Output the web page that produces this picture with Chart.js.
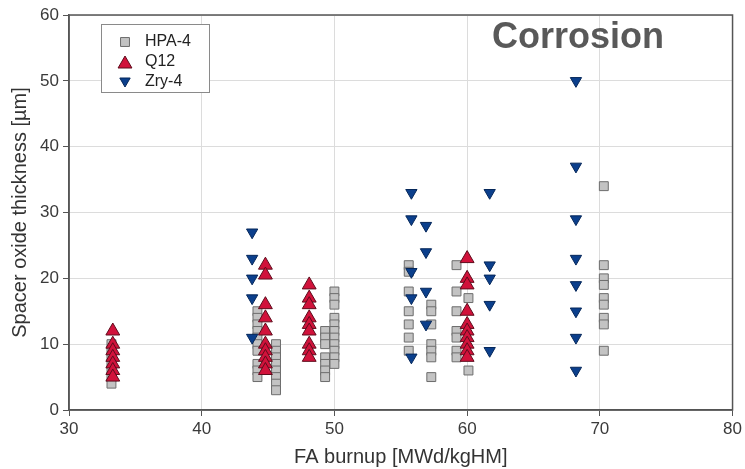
<!DOCTYPE html>
<html>
<head>
<meta charset="utf-8">
<script src="https://cdn.jsdelivr.net/npm/chart.js@4.4.0/dist/chart.umd.min.js"></script>
<style>
  html, body { margin: 0; padding: 0; background: #fff; }
  #wrap { width: 745px; height: 469px; position: relative; }
</style>
</head>
<body>
<div id="wrap"><canvas id="chart"></canvas></div>
<script>
// HPA-4 spacer measurements
const hpaX = [33.2, 33.2, 33.2, 33.2, 33.2, 33.2, 33.2,
    44.2, 44.2, 44.2, 44.2, 44.2, 44.2, 44.2, 44.2, 44.2, 44.2,
    45.6, 45.6, 45.6, 45.6, 45.6, 45.6, 45.6, 45.6,
    49.3, 49.3, 49.3, 49.3, 49.3, 49.3, 49.3,
    50.0, 50.0, 50.0, 50.0, 50.0, 50.0, 50.0, 50.0, 50.0, 50.0, 50.0,
    55.6, 55.6, 55.6, 55.6, 55.6, 55.6, 55.6,
    57.3, 57.3, 57.3, 57.3, 57.3, 57.3, 57.3,
    59.2, 59.2, 59.2, 59.2, 59.2, 59.2, 59.2,
    60.1, 60.1,
    70.3, 70.3, 70.3, 70.3, 70.3, 70.3, 70.3, 70.3, 70.3];
const hpaY = [10, 9, 8, 7, 6, 5, 4,
    15, 14, 13, 12, 11, 10, 9, 7, 6, 5,
    10, 9, 8, 7, 6, 5, 4, 3,
    12, 11, 10, 8, 7, 6, 5,
    18, 17, 16, 14, 13, 12, 11, 10, 9, 8, 7,
    22, 21, 18, 15, 13, 11, 9,
    16, 15, 13, 10, 9, 8, 5,
    22, 18, 15, 12, 11, 9, 8,
    17, 6,
    34, 22, 20, 19, 17, 16, 14, 13, 9];

// Q12
const q12X = [33.3, 33.3, 33.3, 33.3, 33.3, 33.3, 33.3,
    44.8, 44.8, 44.8, 44.8, 44.8, 44.8, 44.8, 44.8, 44.8, 44.8,
    48.1, 48.1, 48.1, 48.1, 48.1, 48.1, 48.1, 48.1, 48.1,
    60.0, 60.0, 60.0, 60.0, 60.0, 60.0, 60.0, 60.0, 60.0, 60.0];
const q12Y = [12, 10, 9, 8, 7, 6, 5,
    22, 20.5, 16, 14, 12, 10, 9, 8, 7, 6,
    19, 17, 16, 14, 13, 12, 10, 9, 8,
    23, 20, 19, 15, 13, 12, 11, 10, 9, 8];

// Zry-4
const zryX = [43.8, 43.8, 43.8, 43.8, 43.8,
    55.8, 55.8, 55.8, 55.8, 55.8,
    56.9, 56.9, 56.9, 56.9,
    61.7, 61.7, 61.7, 61.7, 61.7,
    68.2, 68.2, 68.2, 68.2, 68.2, 68.2, 68.2, 68.2];
const zryY = [27, 23, 20, 17, 11,
    33, 29, 21, 17, 8,
    28, 24, 18, 13,
    33, 22, 20, 16, 9,
    50, 37, 29, 23, 19, 15, 11, 6];

const xTicks = [30, 40, 50, 60, 70, 80];
const yTicks = [0, 10, 20, 30, 40, 50, 60];

function pts(xs, ys) {
    return xs.map((x, i) => ({ x: x, y: ys[i] }));
}

const FONT = "'Liberation Sans', Arial, sans-serif";

const series = [
    { label: 'HPA-4', data: pts(hpaX, hpaY), pointStyle: 'rect', pointRadius: 6.3, rotation: 0,
      backgroundColor: '#c3c3c3', borderColor: '#6c6c6c', order: 3 },
    { label: 'Q12', data: pts(q12X, q12Y), pointStyle: 'triangle', pointRadius: 8, rotation: 0,
      backgroundColor: '#d1123b', borderColor: '#5e0c1c', order: 2 },
    { label: 'Zry-4', data: pts(zryX, zryY), pointStyle: 'triangle', pointRadius: 6.5, rotation: 180,
      backgroundColor: '#0b3f8c', borderColor: '#05275a', order: 1 }
];

const extras = {
    id: 'extras',
    afterDraw(chart) {
        const ctx = chart.ctx;
        const a = chart.chartArea;
        ctx.save();
        // frame
        ctx.strokeStyle = '#555';
        ctx.lineWidth = 1.5;
        ctx.strokeRect(a.left, a.top, a.right - a.left, a.bottom - a.top);

        // legend box
        ctx.fillStyle = '#fff';
        ctx.fillRect(101, 24, 108, 68);
        ctx.strokeStyle = '#8a8a8a';
        ctx.lineWidth = 1;
        ctx.strokeRect(101.5, 24.5, 108, 68);
        ctx.font = '16px ' + FONT;
        ctx.textBaseline = 'middle';
        series.forEach((s, i) => {
            const y = 42 + i * 20;
            ctx.fillStyle = s.backgroundColor;
            ctx.strokeStyle = s.borderColor;
            ctx.lineWidth = 1;
            Chart.helpers.drawPoint(ctx, {
                pointStyle: s.pointStyle,
                radius: s.pointStyle === 'rect' ? 6.3 : (i === 1 ? 8 : 6),
                rotation: s.rotation,
                borderWidth: 1
            }, 125, y + (i === 1 ? 2 : (i === 2 ? -1 : 0)));
            ctx.fillStyle = '#222';
            ctx.fillText(s.label, 145, y);
        });

        // label
        ctx.font = 'bold 36px ' + FONT;
        ctx.fillStyle = '#595959';
        ctx.textAlign = 'center';
        ctx.fillText('Corrosion', 578, 38);
        ctx.restore();
    }
};

new Chart(document.getElementById('chart'), {
    type: 'scatter',
    data: {
        datasets: series.map(s => ({
            label: s.label,
            data: s.data,
            pointStyle: s.pointStyle,
            pointRadius: s.pointRadius,
            pointHoverRadius: s.pointRadius,
            rotation: s.rotation,
            backgroundColor: s.backgroundColor,
            borderColor: s.borderColor,
            borderWidth: 1,
            order: s.order
        }))
    },
    options: {
        responsive: true,
        maintainAspectRatio: false,
        animation: false,
        layout: { padding: { top: 15, right: 9, left: 0, bottom: 0 } },
        plugins: {
            legend: { display: false },
            tooltip: { enabled: false }
        },
        scales: {
            x: {
                type: 'linear',
                min: 30, max: 80,
                afterBuildTicks: s => { s.ticks = xTicks.map(v => ({ value: v })); },
                afterFit: s => { s.height = 59; },
                grid: { color: '#dcdcdc', tickColor: '#555', tickLength: 6 },
                border: { color: '#555', width: 1.5 },
                ticks: { color: '#3a3a3a', font: { family: FONT, size: 17 }, padding: 3, maxRotation: 0 },
                title: { display: true, text: 'FA burnup [MWd/kgHM]', color: '#333',
                         font: { family: FONT, size: 20 }, padding: { top: 0, bottom: 0 } }
            },
            y: {
                type: 'linear',
                min: 0, max: 60,
                afterBuildTicks: s => { s.ticks = yTicks.map(v => ({ value: v })); },
                afterFit: s => { s.width = 69; },
                grid: { color: '#dcdcdc', tickColor: '#555', tickLength: 6 },
                border: { color: '#555', width: 1.5 },
                ticks: { color: '#3a3a3a', font: { family: FONT, size: 17 }, padding: 4 },
                title: { display: true, text: 'Spacer oxide thickness [µm]', color: '#333',
                         font: { family: FONT, size: 20 }, padding: { top: 8, bottom: 0 } }
            }
        }
    },
    plugins: [extras]
});
</script>
</body>
</html>
